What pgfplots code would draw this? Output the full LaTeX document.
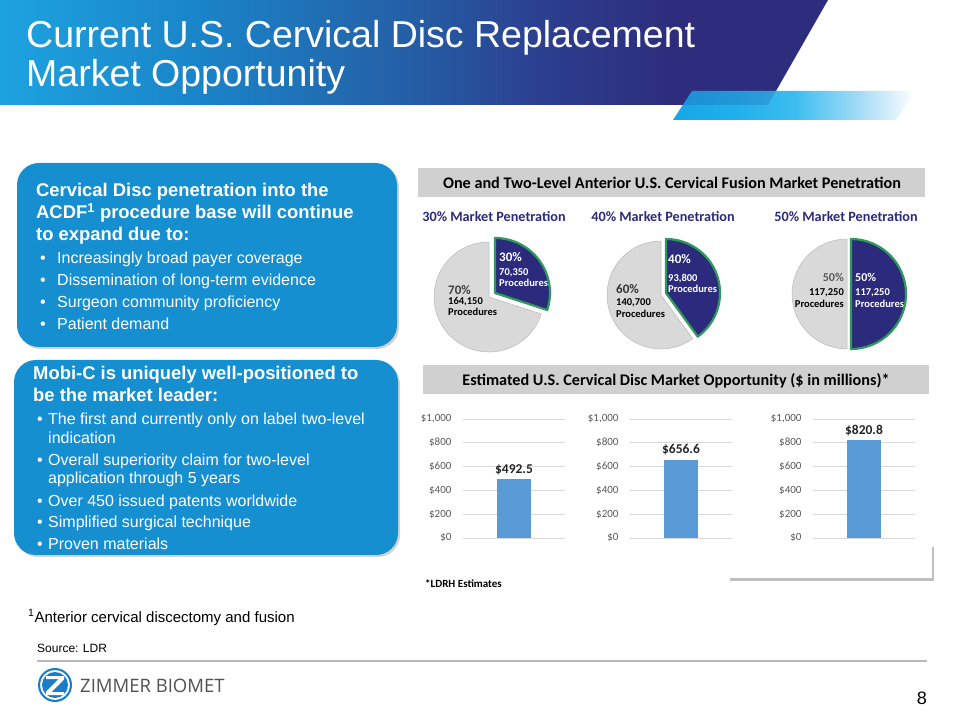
\documentclass[border=0pt]{standalone}
\usepackage{fontspec}
\setmainfont{Liberation Sans}
\newfontfamily\carlito{Carlito}
\newfontfamily\osans{Open Sans}
\usepackage{pgfplots}
\pgfplotsset{compat=1.18}
\usetikzlibrary{shadows}

\definecolor{c1}{HTML}{1DA3E0}
\definecolor{c2}{HTML}{1A84C8}
\definecolor{c3}{HTML}{2461A8}
\definecolor{c4}{HTML}{2C3E8E}
\definecolor{c5}{HTML}{2E2C7C}
\definecolor{s1}{HTML}{17A6E6}
\definecolor{s2}{HTML}{1FB0EC}
\definecolor{s3}{HTML}{3CBDF0}
\definecolor{s4}{HTML}{A8DDF6}
\definecolor{boxblue}{HTML}{168FD0}
\definecolor{navy}{HTML}{2B2A7C}
\definecolor{pgreen}{HTML}{2E9A5C}
\definecolor{pgray}{HTML}{D9D9D9}
\definecolor{hdr}{HTML}{D0D0D0}
\definecolor{barblue}{HTML}{5B9BD5}
\definecolor{tickgray}{HTML}{595959}
\definecolor{gridgray}{HTML}{D9D9D9}
\definecolor{logoblue}{HTML}{1B7DC3}

\pgfdeclarehorizontalshading{banner}{100bp}{color(0bp)=(c1); color(25bp)=(c1); color(37bp)=(c2); color(49bp)=(c3); color(58bp)=(c4); color(66bp)=(c5); color(100bp)=(c5)}
\pgfdeclarehorizontalshading{stripe}{100bp}{color(0bp)=(s1); color(25bp)=(s1); color(38bp)=(s2); color(50bp)=(s3); color(64bp)=(s4); color(75bp)=(white); color(100bp)=(white)}

\newcommand{\fs}[1]{\fontsize{#1}{#1}\selectfont}

% pie: gray cx, gray cy (from top), navy cx, navy cy, radius, navy percent
\newcommand{\pie}[6]{%
  \pgfmathsetmacro\ea{90-3.6*#6}%
  \filldraw[fill=pgray, draw=gray!55, line width=0.5pt] (#1,720-#2) -- ++(\ea:#5) arc[start angle=\ea, end angle=-270, radius=#5] -- cycle;
  \filldraw[fill=navy, draw=pgreen, line width=2.2pt, line join=round] (#3,720-#4) -- ++(90:#5) arc[start angle=90, end angle=\ea, radius=#5] -- cycle;
}

\pgfplotsset{barax/.style={
  scale only axis, width=102pt, height=119pt, anchor=south west,
  xmin=0, xmax=2, ymin=0, ymax=1000,
  ytick={0,200,...,1000},
  yticklabels={\$0,\$200,\$400,\$600,\$800,{\$1,000}},
  xtick=\empty,
  ymajorgrids, grid style={draw=gridgray, line width=0.8pt},
  axis line style={draw=none},
  major tick length=0pt,
  yticklabel style={font=\carlito\fs{11}, text=tickgray, anchor=east, xshift=-8pt},
  bar width=34pt,
  nodes near coords={\$\pgfmathprintnumber[fixed,fixed zerofill,precision=1]{\pgfplotspointmeta}},
  every node near coord/.append style={font=\carlito\bfseries\fs{13.5}, text=black!85, yshift=1pt},
  /pgf/number format/assume math mode=true,
  clip=false,
}}

\begin{document}
\begin{tikzpicture}[x=1pt,y=1pt]
\useasboundingbox (0,0) rectangle (960,720);
\fill[white] (0,0) rectangle (960,720);

\begin{scope}[yshift=720pt, y=-1pt]
  % banner
  \shade[shading=banner] (0,0) -- (828,0) -- (768,105) -- (0,105) -- cycle;
  \shade[shading=stripe] (692,91) -- (915,91) -- (896,120) -- (673,120) -- cycle;
  \fill[navy, opacity=0.18] (692,91) -- (776,91) -- (768,105) -- (682.8,105) -- cycle;
  \node[anchor=base west, text=white, inner sep=0] at (26,48) {\fs{37.5}Current U.S. Cervical Disc Replacement};
  \node[anchor=base west, text=white, inner sep=0] at (26,87) {\fs{37.5}Market Opportunity};

  % left boxes
  \fill[boxblue, rounded corners=22pt, drop shadow={shadow xshift=2pt, shadow yshift=-2pt, opacity=0.35}] (17,163) rectangle (397,347);
  \fill[boxblue, rounded corners=22pt, drop shadow={shadow xshift=2pt, shadow yshift=-2pt, opacity=0.35}] (14,360) rectangle (398,555);

  \begin{scope}[every node/.style={anchor=base west, text=white, inner sep=0}]
    \node at (36,197) {\bfseries\fs{18.4}Cervical Disc penetration into the};
    \node at (36,219) {\bfseries\fs{18.4}ACDF\textsuperscript{1} procedure base will continue};
    \node at (36,241) {\bfseries\fs{18.4}to expand due to:};
    \foreach \yy/\tt in {264/Increasingly broad payer coverage, 286/Dissemination of long-term evidence, 308/Surgeon community proficiency, 330/Patient demand}{
      \node at (40,\yy) {\fs{16}\textbullet};
      \node at (57,\yy) {\fs{16}\tt};
    }
    \node at (33,380) {\bfseries\fs{18.4}Mobi-C is uniquely well-positioned to};
    \node at (33,402) {\bfseries\fs{18.4}be the market leader:};
    \foreach \yy in {425,466,507,528,549}{ \node at (37,\yy) {\fs{16}\textbullet}; }
    \node at (48,425) {\fs{16}The first and currently only on label two-level};
    \node at (48,444) {\fs{16}indication};
    \node at (48,466) {\fs{16}Overall superiority claim for two-level};
    \node at (48,484) {\fs{16}application through 5 years};
    \node at (48,507) {\fs{16}Over 450 issued patents worldwide};
    \node at (48,528) {\fs{16}Simplified surgical technique};
    \node at (48,549) {\fs{16}Proven materials};
  \end{scope}

  % headers
  \fill[hdr] (418,168) rectangle (925,197);
  \node[inner sep=0] at (672,183) {\carlito\bfseries\fs{16.2}One and Two-Level Anterior U.S. Cervical Fusion Market Penetration};
  \node[inner sep=0, text=navy] at (494,217) {\carlito\bfseries\fs{14.2}30\% Market Penetration};
  \node[inner sep=0, text=navy] at (663,217) {\carlito\bfseries\fs{14.2}40\% Market Penetration};
  \node[inner sep=0, text=navy] at (846,217) {\carlito\bfseries\fs{14.2}50\% Market Penetration};

  \fill[hdr] (423,365) rectangle (929,394);
  \node[inner sep=0] at (676,380.5) {\carlito\bfseries\fs{16.2}Estimated U.S. Cervical Disc Market Opportunity (\$ in millions)*};

  \fill[white, drop shadow={shadow xshift=1.5pt, shadow yshift=-2.5pt, opacity=0.5}] (728,545) rectangle (932,578);

  \node[anchor=base west, inner sep=0] at (425,588) {\carlito\bfseries\fs{11}*LDRH Estimates};

  % footer
  \node[anchor=base west, inner sep=0] at (28,622) {\fs{15}\textsuperscript{1}Anterior cervical discectomy and fusion};
  \node[anchor=base west, inner sep=0] at (37,652) {\fs{12}Source: LDR};
  \draw[gray!55, line width=1.5pt] (37,661) -- (927,661);
  \node[anchor=base east, inner sep=0] at (927,704) {\fs{18}8};
  \node[anchor=base west, inner sep=0, text=black!68] at (80,692) {\osans\fs{18.5}ZIMMER BIOMET};
  % logo
  \fill[logoblue] (55,685) circle (17);
  \fill[white] (55,685) circle (14.8);
  \fill[logoblue] (55,685) circle (13);
  \fill[white] (46,676) -- (64,676) -- (64,679.5) -- (51.5,692) -- (64,692) -- (64,695) -- (46,695) -- (46,691.5) -- (58.5,679) -- (46,679) -- cycle;
\end{scope}

% pies (data: navy share in percent)
\pie{489}{297}{495}{293}{55}{30}
\pie{661}{295}{666}{293}{54}{40}
\pie{847}{294}{851}{294}{55}{50}

\begin{scope}[yshift=720pt, y=-1pt]
  \begin{scope}[every node/.style={anchor=base west, inner sep=0}]
    \node[text=white] at (499,262) {\carlito\bfseries\fs{13}30\%};
    \node[text=white] at (499,276) {\carlito\bfseries\fs{10.5}70,350};
    \node[text=white] at (499,287) {\carlito\bfseries\fs{10.5}Procedures};
    \node[text=black!75] at (448,295) {\carlito\bfseries\fs{13}70\%};
    \node at (448,305) {\carlito\bfseries\fs{10.5}164,150};
    \node at (448,316) {\carlito\bfseries\fs{10.5}Procedures};

    \node[text=white] at (668,264) {\carlito\bfseries\fs{13}40\%};
    \node[text=white] at (668,282) {\carlito\bfseries\fs{10.5}93,800};
    \node[text=white] at (668,293) {\carlito\bfseries\fs{10.5}Procedures};
    \node[text=black!80] at (616,294) {\carlito\bfseries\fs{13}60\%};
    \node at (616,306) {\carlito\bfseries\fs{10.5}140,700};
    \node at (616,318) {\carlito\bfseries\fs{10.5}Procedures};

    \node[text=white] at (855,282) {\carlito\bfseries\fs{12}50\%};
    \node[text=white] at (855,296) {\carlito\bfseries\fs{10.5}117,250};
    \node[text=white] at (855,308) {\carlito\bfseries\fs{10.5}Procedures};
  \end{scope}
  \begin{scope}[every node/.style={anchor=base east, inner sep=0}]
    \node[text=tickgray] at (844,282) {\carlito\bfseries\fs{12}50\%};
    \node at (844,296) {\carlito\bfseries\fs{10.5}117,250};
    \node at (844,308) {\carlito\bfseries\fs{10.5}Procedures};
  \end{scope}
\end{scope}

% bar charts
\begin{axis}[barax, at={(463pt,182pt)}]
  \addplot[ybar, fill=barblue, draw=none] coordinates {(1,492.5)};
\end{axis}
\begin{axis}[barax, at={(630pt,182pt)}]
  \addplot[ybar, fill=barblue, draw=none] coordinates {(1,656.6)};
\end{axis}
\begin{axis}[barax, at={(813pt,182pt)}]
  \addplot[ybar, fill=barblue, draw=none] coordinates {(1,820.8)};
\end{axis}
\end{tikzpicture}
\end{document}
